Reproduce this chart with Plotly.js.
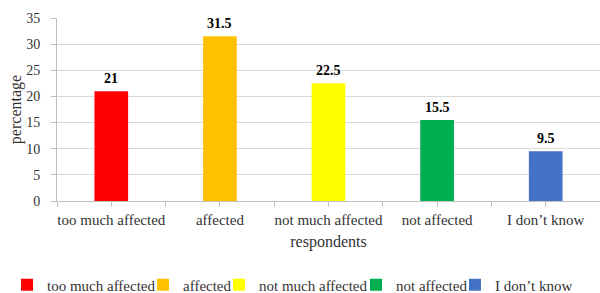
<!DOCTYPE html>
<html>
<head>
<meta charset="utf-8">
<script src="https://cdn.plot.ly/plotly-3.0.1.min.js"></script>
<style>html,body{margin:0;padding:0;background:#fff;}#chart{width:600px;height:293px;}</style>
</head>
<body>
<div id="chart"></div>
<script>
const categories = ["too much affected", "affected", "not much affected", "not affected", "I don’t know"];
const values = [21, 31.5, 22.5, 15.5, 9.5];
const colors = ["#FF0000", "#FFC000", "#FFFF00", "#00B050", "#4472C4"];
const yTicks = [0, 5, 10, 15, 20, 25, 30, 35];
// legend text start positions (px from left of the 600px canvas)
const legendTextX = [47, 183, 259, 396, 495];

const serif = "'Liberation Serif', 'Times New Roman', serif";
const W = 600, H = 293;

const traces = categories.map((c, i) => ({
  type: "bar",
  name: c,
  x: [c],
  y: [values[i]],
  marker: { color: colors[i] },
  width: 0.31,
  legend: i === 0 ? "legend" : "legend" + (i + 1),
  hoverinfo: "x+y"
}));

// value labels above the bars, positioned in data coordinates
const annotations = categories.map((c, i) => ({
  x: c, y: values[i], xref: "x", yref: "y",
  text: "<b>" + values[i] + "</b>",
  showarrow: false,
  yanchor: "bottom",
  yshift: 3,
  font: { family: serif, size: 14, color: "#000" }
}));

// tick marks at both category centres and boundaries
const tickvals = [], ticktext = [];
for (let i = 0; i < categories.length; i++) {
  tickvals.push(i - 0.5); ticktext.push("");
  tickvals.push(i); ticktext.push(categories[i]);
}
tickvals.push(categories.length - 0.5); ticktext.push("");

const layout = {
  width: W, height: H,
  margin: { l: 57, r: 0, t: 18, b: 92 },
  paper_bgcolor: "#fff", plot_bgcolor: "#fff",
  font: { family: serif, color: "#333" },
  barmode: "overlay",
  showlegend: true,
  annotations: annotations,
  xaxis: {
    type: "category",
    categoryorder: "array",
    categoryarray: categories,
    range: [-0.5, categories.length - 0.5],
    tickmode: "array",
    tickvals: tickvals,
    ticktext: ticktext,
    ticks: "outside", ticklen: 5, tickcolor: "#bfbfbf",
    showline: true, linecolor: "#bfbfbf", linewidth: 1,
    showgrid: false,
    tickfont: { family: serif, size: 15, color: "#333" },
    ticklabelstandoff: 0,
    title: { text: "respondents", font: { family: serif, size: 16, color: "#333" }, standoff: 8 },
    fixedrange: true
  },
  yaxis: {
    range: [0, 35],
    tickmode: "array",
    tickvals: yTicks,
    ticks: "outside", ticklen: 5, tickcolor: "#bfbfbf",
    showline: true, linecolor: "#bfbfbf", linewidth: 1,
    showgrid: true, gridcolor: "#d9d9d9", gridwidth: 1,
    zeroline: false,
    tickfont: { family: serif, size: 14, color: "#333" },
    ticklabelstandoff: 8,
    title: { text: "percentage", font: { family: serif, size: 16, color: "#333" }, standoff: 0 },
    fixedrange: true
  }
};

categories.forEach((c, i) => {
  const key = i === 0 ? "legend" : "legend" + (i + 1);
  layout[key] = {
    orientation: "h",
    xref: "container", yref: "container",
    x: (legendTextX[i] - 40) / W,
    xanchor: "left",
    y: 1 - 285 / H,
    yanchor: "middle",
    bgcolor: "rgba(0,0,0,0)",
    borderwidth: 0,
    font: { family: serif, size: 15, color: "#333" }
  };
});

Plotly.newPlot("chart", traces, layout, { displayModeBar: false, staticPlot: true });
</script>
</body>
</html>
